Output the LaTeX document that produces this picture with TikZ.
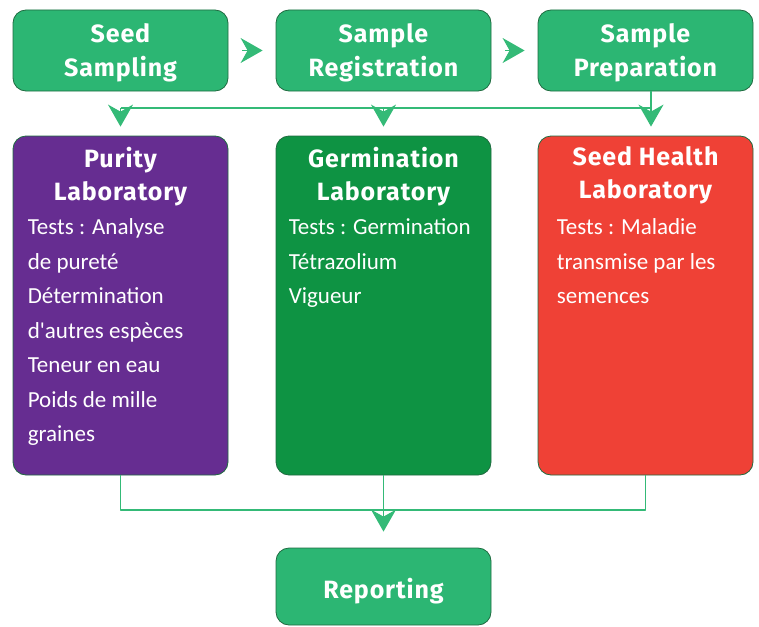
\documentclass[tikz,border=0pt]{standalone}
\usepackage{fontspec}
\newfontfamily\headfont{Fira Sans}[LetterSpace=3.5]
\newfontfamily\bodyfont{Carlito}
\usetikzlibrary{arrows.meta,positioning}
\definecolor{stagegreen}{HTML}{2CB673}
\definecolor{edgegreen}{HTML}{1F6B40}
\definecolor{labgreen}{HTML}{0E9343}
\definecolor{labpurple}{HTML}{662D91}
\definecolor{labred}{HTML}{EF4136}
\definecolor{flowgreen}{HTML}{34BA77}

\begin{document}
\begin{tikzpicture}[line cap=round,line join=round,>={Stealth[length=22pt,width=25pt,inset=7pt]},x=1pt,y=-1pt,
    stagebox/.style={draw=edgegreen,line width=0.8pt,fill=stagegreen,rounded corners=13pt,minimum width=215pt,minimum height=81pt,inner sep=0pt,align=center,text=white,font=\headfont\bfseries\fontsize{25}{33}\selectfont},
    labbox/.style={draw=edgegreen,line width=0.8pt,rounded corners=13pt,minimum width=215pt,minimum height=339pt,inner sep=0pt},
    labtitle/.style={align=center,text=white,inner sep=0pt,font=\headfont\bfseries\fontsize{25}{33}\selectfont},
    labtext/.style={align=left,text=white,inner sep=0pt,font=\bodyfont\fontsize{23}{34.5}\selectfont},
    flow/.style={draw=flowgreen,line width=1.5pt,line cap=butt}]
      \useasboundingbox (0,0) rectangle (759,626);
      \node[stagebox,text height=57pt,text depth=6pt] (sampling) at (120.5,50.5) {Seed\\Sampling};
      \node[stagebox,text height=57pt,text depth=6pt] (registration) at (383.5,50.5) {Sample\\Registration};
      \node[stagebox,text height=57pt,text depth=6pt] (preparation) at (645.5,50.5) {Sample\\Preparation};
      \node[labbox,fill=labpurple] (purity) at (120.5,305.5) {};
      \node[labbox,fill=labgreen] (germination) at (383.5,305.5) {};
      \node[labbox,fill=labred] (health) at (645.5,305.5) {};
      \node[stagebox,minimum height=77pt,text height=28pt,text depth=5pt] (reporting) at (383.5,586.5) {Reporting};
      \node[labtitle,below=11pt of purity.north] (puritytitle) {Purity\\Laboratory};
      \node[labtitle,below=11pt of germination.north] (germinationtitle) {Germination\\Laboratory};
      \node[labtitle,below=11pt of health.north] (healthtitle) {Seed Health\\Laboratory};
      \node[labtext,below right=83pt and 15pt of purity.north west] (puritytests) {Tests : Analyse\\de pureté\\Détermination\\d'autres espèces\\Teneur en eau\\Poids de mille\\graines};
      \node[labtext,below right=83pt and 13pt of germination.north west] (germinationtests) {Tests : Germination\\Tétrazolium\\Vigueur};
      \node[labtext,below right=83pt and 19pt of health.north west] (healthtests) {Tests : Maladie\\transmise par les\\semences};
      \coordinate (split) at (651,108);
      \coordinate (merge) at (383.5,510);
      \draw[flow,->,shorten <=14pt,shorten >=13pt] (sampling.east) -- (registration.west);
      \draw[flow,->,shorten <=14pt,shorten >=13pt] (registration.east) -- (preparation.west);
      \draw[flow] (purity.north |- split) -- (split);
      \draw[flow,->] ([xshift=5.5pt]preparation.south) -- ([xshift=5.5pt,yshift=9pt]health.north);
      \draw[flow,->] (purity.north |- split) -- ([yshift=9pt]purity.north);
      \draw[flow,->] (germination.north |- split) -- ([yshift=9pt]germination.north);
      \draw[flow] (purity.south) -- (purity.south |- merge) -- (health.south |- merge) -- (health.south);
      \draw[flow,->] (germination.south) -- ([yshift=16pt]reporting.north);
    \end{tikzpicture}
\end{document}
